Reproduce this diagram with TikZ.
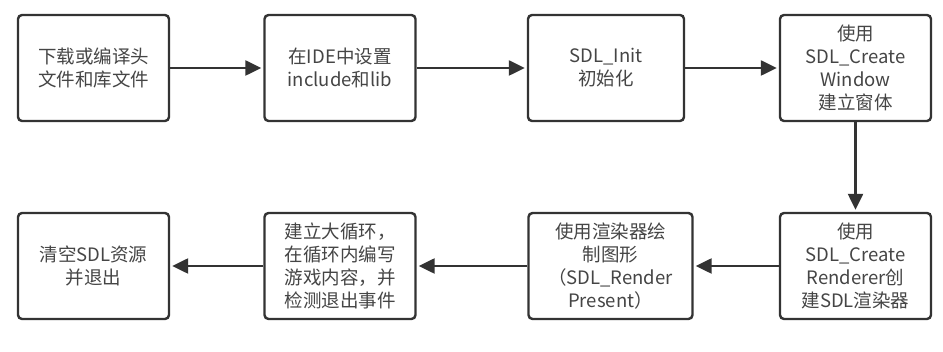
\documentclass[tikz,border=0pt]{standalone}
\usepackage{fontspec}
\newfontfamily\cjk{Noto Sans CJK SC}
\usetikzlibrary{arrows.meta}
\definecolor{edge}{HTML}{333333}
\definecolor{txt}{HTML}{454545}
\tikzset{
  stepbox/.style={draw=edge, line width=2.4pt, rounded corners=4pt, fill=white,
    minimum height=106pt, align=center, text=txt, inner sep=2pt,
    font=\cjk\fontsize{18.5}{23}\selectfont},
  flow/.style={draw=edge, line width=2.4pt, shorten >=2pt,
    -{Triangle[length=16pt,width=15pt]}}
}
\begin{document}
\begin{tikzpicture}[x=1pt,y=-1pt]
\useasboundingbox (0,0) rectangle (943,352);
\node[stepbox, minimum width=151pt] (n1) at (93.5,68) {下载或编译头\\文件和库文件};
\node[stepbox, minimum width=151pt] (n2) at (340,68) {在IDE中设置\\include和lib};
\node[stepbox, minimum width=156pt] (n3) at (606,68) {SDL\_Init\\初始化};
\node[stepbox, minimum width=151pt] (n4) at (855.5,68) {使用\\SDL\_Create\\Window\\建立窗体};
\node[stepbox, minimum width=151pt] (n5) at (855.5,266) {使用\\SDL\_Create\\Renderer创\\建SDL渲染器};
\node[stepbox, minimum width=164pt] (n6) at (610.5,266) {使用渲染器绘\\制图形\\（SDL\_Render\\Present）};
\node[stepbox, minimum width=151pt] (n7) at (340,266) {建立大循环，\\在循环内编写\\游戏内容，并\\检测退出事件};
\node[stepbox, minimum width=151pt] (n8) at (93.5,266) {清空SDL资源\\并退出};
\draw[flow] (n1) -- (n2);
\draw[flow] (n2) -- (n3);
\draw[flow] (n3) -- (n4);
\draw[flow] (n4) -- (n5);
\draw[flow] (n5) -- (n6);
\draw[flow] (n6) -- (n7);
\draw[flow] (n7) -- (n8);
\end{tikzpicture}
\end{document}
